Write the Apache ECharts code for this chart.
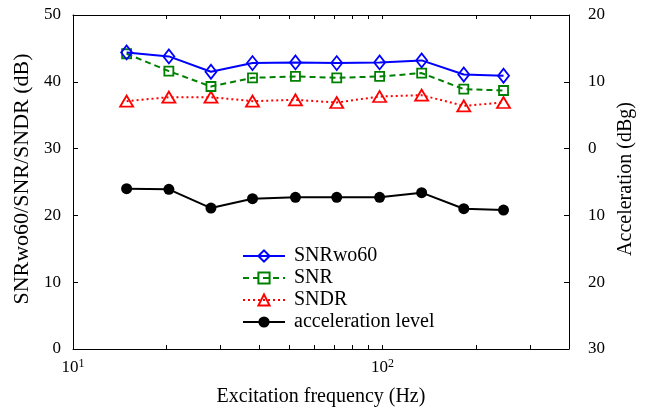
<!DOCTYPE html>
<html>
<head>
<meta charset="utf-8">
<script src="https://cdn.jsdelivr.net/npm/echarts@6/dist/echarts.min.js"></script>
<style>
  html, body { margin: 0; padding: 0; background: #fff; }
  #chart { width: 647px; height: 416px; }
</style>
</head>
<body>
<div id="chart"></div>
<script>
// excitation frequency (Hz) and measured values
var freq = [14.9, 20.4, 27.9, 38.0, 52.3, 71.1, 97.8, 133.7, 182.9, 245.8];
var snrwo60 = [44.4, 43.8, 41.5, 42.8, 42.9, 42.8, 42.9, 43.2, 41.1, 40.9];
var snr = [44.2, 41.6, 39.3, 40.6, 40.8, 40.6, 40.8, 41.3, 38.9, 38.7];
var sndr = [37.1, 37.7, 37.7, 37.1, 37.3, 36.9, 37.8, 38.0, 36.4, 36.9];
var accel = [-6.0, -6.1, -8.9, -7.5, -7.3, -7.3, -7.3, -6.6, -9.0, -9.2];

var xLabelValues = [10, 100];
var xTickValues = [10, 20, 30, 40, 50, 60, 70, 80, 90, 100, 200, 300, 400];

var font = 'Liberation Serif';

function pairs(ys) {
  var out = [];
  for (var i = 0; i < freq.length; i++) {
    out.push([freq[i], ys[i]]);
  }
  return out;
}

var myChart = echarts.init(document.getElementById('chart'));

var axisLine = { show: true, onZero: false, lineStyle: { color: '#000', width: 1 } };

var option = {
  animation: false,
  backgroundColor: '#fff',
  grid: { left: 73, right: 78, top: 15, bottom: 67 },
  legend: {
    orient: 'vertical',
    left: 242,
    top: 246,
    padding: 0,
    itemWidth: 42,
    itemHeight: 14,
    itemGap: 2,
    textStyle: { fontFamily: font, fontSize: 20, lineHeight: 20, color: '#000', padding: [0, 0, 0, 4] },
    data: ['SNRwo60', 'SNR', 'SNDR', 'acceleration level']
  },
  xAxis: [
    {
      type: 'log',
      logBase: 10,
      min: 10,
      max: 400,
      position: 'bottom',
      axisLine: axisLine,
      axisTick: { inside: true, length: 4, customValues: xTickValues, lineStyle: { color: '#000' } },
      axisLabel: {
        customValues: xLabelValues,
        margin: 9,
        formatter: function (v) {
          return '{b|10}{s|' + Math.round(Math.log10(v)) + '}';
        },
        rich: {
          b: { fontFamily: font, fontSize: 17, color: '#000', lineHeight: 20 },
          s: { fontFamily: font, fontSize: 12, color: '#000', lineHeight: 12, padding: [0, 0, 8, 0] }
        }
      },
      splitLine: { show: false },
      name: 'Excitation frequency (Hz)',
      nameLocation: 'middle',
      nameGap: 38,
      nameTextStyle: { fontFamily: font, fontSize: 20, color: '#000' }
    },
    {
      type: 'log',
      logBase: 10,
      min: 10,
      max: 400,
      position: 'top',
      axisLine: axisLine,
      axisTick: { inside: true, length: 4, customValues: xTickValues, lineStyle: { color: '#000' } },
      axisLabel: { show: false },
      splitLine: { show: false }
    }
  ],
  yAxis: [
    {
      type: 'value',
      min: 0,
      max: 50,
      interval: 10,
      position: 'left',
      axisLine: axisLine,
      axisTick: { inside: true, length: 5, lineStyle: { color: '#000' } },
      axisLabel: { margin: 12, fontFamily: font, fontSize: 17, color: '#000' },
      splitLine: { show: false },
      name: 'SNRwo60/SNR/SNDR (dB)',
      nameLocation: 'middle',
      nameGap: 36,
      nameTextStyle: { fontFamily: font, fontSize: 22, color: '#000', padding: [0, 0, 0, 6] }
    },
    {
      type: 'value',
      min: -30,
      max: 20,
      interval: 10,
      position: 'right',
      axisLine: axisLine,
      axisTick: { inside: true, length: 5, lineStyle: { color: '#000' } },
      axisLabel: {
        margin: 19,
        fontFamily: font,
        fontSize: 17,
        color: '#000',
        formatter: function (v) { return String(Math.abs(v)); }
      },
      splitLine: { show: false },
      name: 'Acceleration (dBg)',
      nameLocation: 'middle',
      nameGap: 46,
      nameTextStyle: { fontFamily: font, fontSize: 20, color: '#000', padding: [0, 0, 0, 6] }
    }
  ],
  series: [
    {
      name: 'SNRwo60',
      type: 'line',
      data: pairs(snrwo60),
      symbol: 'diamond',
      symbolSize: [11, 14],
      lineStyle: { color: '#0000ff', width: 2 },
      itemStyle: { color: 'rgba(255,255,255,0)', borderColor: '#0000ff', borderWidth: 1.8 },
      z: 4
    },
    {
      name: 'SNR',
      type: 'line',
      data: pairs(snr),
      symbol: 'rect',
      symbolSize: 9,
      lineStyle: { color: '#008000', width: 2, type: [6, 4] },
      itemStyle: { color: 'rgba(255,255,255,0)', borderColor: '#008000', borderWidth: 1.8 },
      z: 3
    },
    {
      name: 'SNDR',
      type: 'line',
      data: pairs(sndr),
      symbol: 'triangle',
      symbolSize: [13, 11],
      lineStyle: { color: '#ff0000', width: 2, type: [2, 3] },
      itemStyle: { color: 'rgba(255,255,255,0)', borderColor: '#ff0000', borderWidth: 1.8 },
      z: 2
    },
    {
      name: 'acceleration level',
      type: 'line',
      yAxisIndex: 1,
      data: pairs(accel),
      symbol: 'circle',
      symbolSize: 11,
      lineStyle: { color: '#000', width: 2 },
      itemStyle: { color: '#000' },
      z: 5
    }
  ]
};

myChart.setOption(option, true);
</script>
</body>
</html>
